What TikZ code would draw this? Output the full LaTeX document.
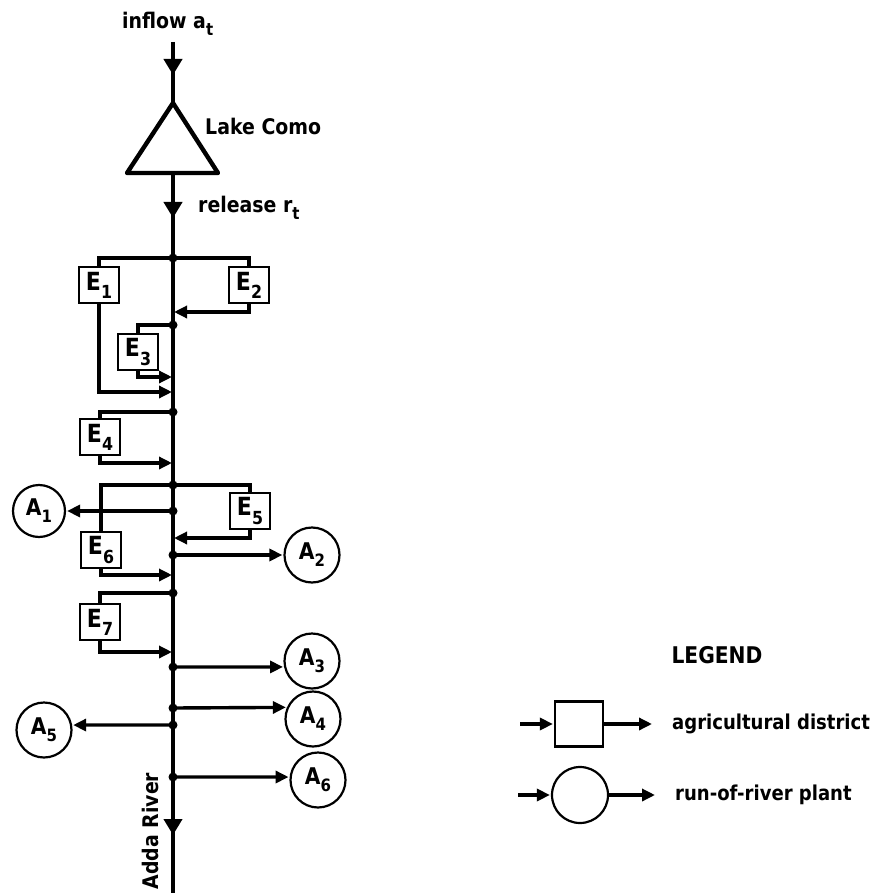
\documentclass[tikz,border=0pt]{standalone}
\usepackage{fontspec}
\setmainfont{DejaVu Sans}[FakeStretch=0.88]
\usetikzlibrary{arrows.meta,decorations.markings}
\newcommand{\lsub}[1]{\raisebox{-0.55ex}{\fontsize{17}{17}\selectfont #1}}
\newcommand{\esub}[1]{\raisebox{-0.6ex}{\fontsize{18}{18}\selectfont #1}}
\begin{document}
\begin{tikzpicture}[x=1pt,y=-1pt,
  txt/.style={font=\fontsize{21.5}{25}\selectfont\bfseries, inner sep=0pt},
  ebox/.style={draw, line width=2.2pt, minimum width=40pt, minimum height=36pt, inner sep=0pt, font=\fontsize{25}{25}\selectfont\bfseries},
  aplant/.style={draw, circle, line width=2.2pt, minimum size=55pt, inner sep=0pt, font=\fontsize{23}{23}\selectfont\bfseries},
  br/.style={line width=3.4pt},
  bra/.style={line width=3.4pt, -{Triangle[length=13pt,width=12pt]}, shorten >=1pt},
  river/.style={line width=4.4pt},
  jdot/.style={circle, fill, inner sep=0pt, minimum size=9pt}
]
\useasboundingbox (0,0) rectangle (883,893);

% inflow and lake
\node[txt, anchor=base west] (inflow) at (122,29) {inflow a\lsub{t}};
\coordinate (intop) at (173,42);
\coordinate (lapex) at (173,103);
\coordinate (lleft) at (127,173);
\coordinate (lright) at (218,173);
\coordinate (lbase) at (173,173);
\draw[line width=4.4pt, line join=round] (lleft) -- (lapex) -- (lright) -- cycle;
\node[txt, anchor=base west] (lake) at (205,135) {Lake Como};
\draw[river, decoration={markings, mark=at position 33pt with {\arrow{Triangle[length=16pt,width=18pt]}}}, postaction={decorate}] (intop) -- (lapex);

% river
\coordinate (rend) at (173,893);
\draw[river, decoration={markings,
   mark=at position 45pt with {\arrow{Triangle[length=16pt,width=18pt]}},
   mark=at position 662pt with {\arrow{Triangle[length=16pt,width=18pt]}}}, postaction={decorate}] (lbase) -- (rend);
\node[txt, anchor=base west] (release) at (198,213) {release r\lsub{t}};
\node[txt, rotate=90] (adda) at (150,831) {Adda River};

% junctions
\node[jdot] (j1) at (173,258) {};
\node[jdot] (j3) at (173,325) {};
\node[jdot] (j4) at (173,412) {};
\node[jdot] (j56) at (173,485) {};
\node[jdot] (jA1) at (173,511) {};
\node[jdot] (jA2) at (173,555) {};
\node[jdot] (j7) at (173,593) {};
\node[jdot] (jA3) at (173,667) {};
\node[jdot] (jA4) at (173,708) {};
\node[jdot] (jA5) at (173,725) {};
\node[jdot] (jA6) at (173,777) {};

% return points
\coordinate (r1) at (173,392);
\coordinate (r2) at (173,312);
\coordinate (r3) at (173,377);
\coordinate (r4) at (173,463);
\coordinate (r5) at (173,538);
\coordinate (r6) at (173,575);
\coordinate (r7) at (173,652);

% agricultural districts
\node[ebox] (e1) at (99,285) {E\esub{1}};
\node[ebox] (e2) at (249,285) {E\esub{2}};
\node[ebox] (e3) at (138,352) {E\esub{3}};
\node[ebox] (e4) at (100,437) {E\esub{4}};
\node[ebox] (e5) at (250,511) {E\esub{5}};
\node[ebox] (e6) at (101,550) {E\esub{6}};
\node[ebox] (e7) at (100,622) {E\esub{7}};

\draw[br] (j1.center) -| (e1.north);
\draw[bra] (e1.south) |- (r1);
\draw[br] (j1.center) -| (e2.north);
\draw[bra] (e2.south) |- (r2);
\draw[br] (j3.center) -| (e3.north);
\draw[bra] (e3.south) |- (r3);
\draw[br] (j4.center) -| (e4.north);
\draw[bra] (e4.south) |- (r4);
\draw[br] (j56.center) -| (e5.north);
\draw[bra] (e5.south) |- (r5);
\draw[br] (j56.center) -| (e6.north);
\draw[bra] (e6.south) |- (r6);
\draw[br] (j7.center) -| (e7.north);
\draw[bra] (e7.south) |- (r7);

% run-of-river plants
\node[aplant, minimum size=52pt] (a1) at (39,511) {A\lsub{1}};
\node[aplant] (a2) at (312,555) {A\lsub{2}};
\node[aplant] (a3) at (312,661) {A\lsub{3}};
\node[aplant] (a4) at (313,719) {A\lsub{4}};
\node[aplant] (a5) at (44,730) {A\lsub{5}};
\node[aplant] (a6) at (318,780) {A\lsub{6}};

\draw[bra] (jA1.center) -- (a1.east);
\draw[bra] (jA2.center) -- (a2.west);
\draw[bra] (jA3.center) -- (a3.192);
\draw[bra] (jA4.center) -- (a4.156);
\draw[bra] (jA5.center) -- (a5.10);
\draw[bra] (jA6.center) -- (a6.174);

% legend
\node[txt, font=\fontsize{23}{25}\selectfont\bfseries] (leg) at (717,655) {LEGEND};
\node[draw, line width=2.2pt, minimum width=48pt, minimum height=45pt] (lsq) at (579,724) {};
\coordinate (lsqin) at (520,724);
\coordinate (lsqout) at (653,724);
\draw[bra] (lsqin) -- (lsq.west);
\draw[bra] (lsq.east) -- (lsqout);
\node[txt, font=\fontsize{20.5}{25}\selectfont\bfseries, anchor=west] (lsqt) at (672,724) {agricultural district};
\node[aplant, minimum size=56pt] (lci) at (580,795) {};
\coordinate (lciin) at (518,795);
\coordinate (lciout) at (656,795);
\draw[bra] (lciin) -- (lci.west);
\draw[bra] (lci.east) -- (lciout);
\node[txt, font=\fontsize{20.5}{25}\selectfont\bfseries, anchor=west] (lcit) at (675,795) {run-of-river plant};
\end{tikzpicture}
\end{document}
